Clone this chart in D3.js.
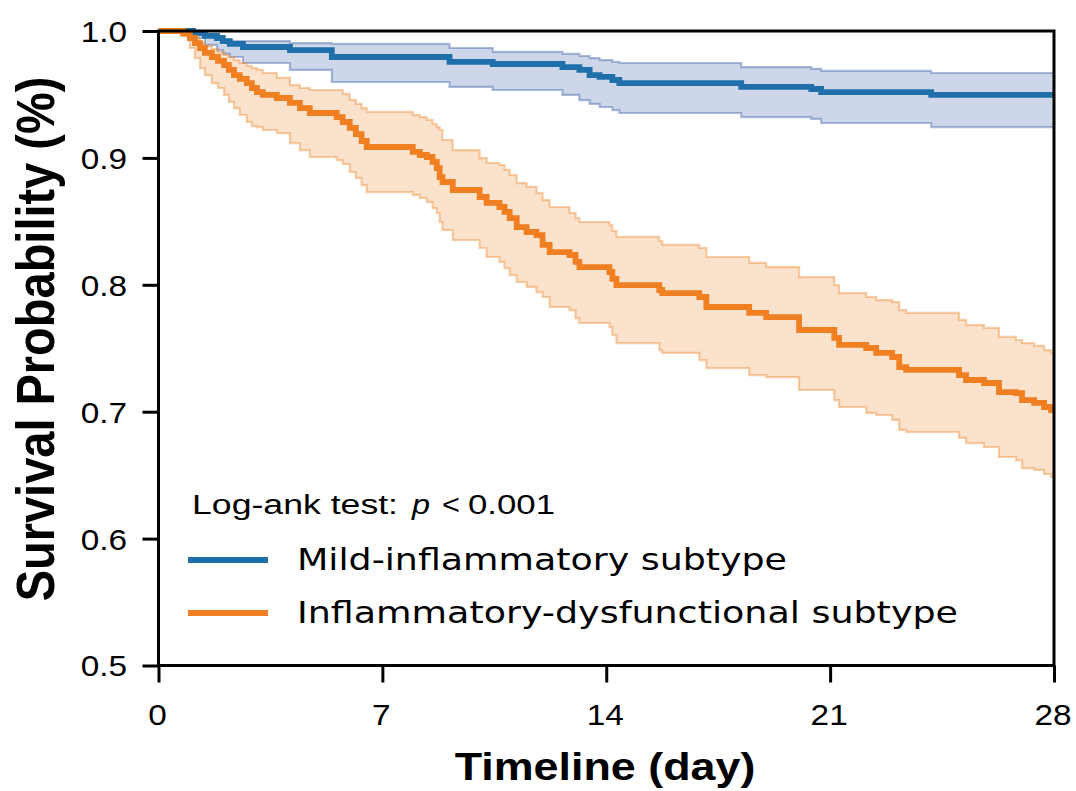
<!DOCTYPE html>
<html>
<head>
<meta charset="utf-8">
<script src="https://cdn.jsdelivr.net/npm/d3@7"></script>
<style>
  html, body { margin: 0; padding: 0; background: #fff; }
  svg { display: block; }
</style>
</head>
<body>
<div id="chart"></div>
<script>
// ---------------- DATA ----------------
const seriesNames = ["Mild-inflammatory subtype", "Inflammatory-dysfunctional subtype"];
const testLabel = "Log-ank test:";
const pLabel = "p";
const pValueText = "0.001";
const xTickValues = [0, 7, 14, 21, 28];
const yTickValues = [0.5, 0.6, 0.7, 0.8, 0.9, 1.0];
const xTitle = "Timeline (day)";
const yTitle = "Survival Probability (%)";

// Mild-inflammatory subtype (Kaplan-Meier estimate + 95% CI)
const blueTime  = [0, 1.08, 1.45, 1.83, 2.01, 2.23, 2.64, 4.11, 5.42, 9.10, 10.45, 12.63, 13.16, 13.48, 13.79, 14.19, 14.41, 18.22, 20.41, 20.72, 24.16];
const blueSurv  = [1.0, .9984, .9961, .9945, .9921, .9898, .9874, .985, .9795, .9756, .974, .9716, .9693, .9653, .9638, .9614, .959, .9559, .9543, .9519, .9496];
const blueUpper = [1.0, .9992, .9976, .9953, .9937, .9921, .9921, .9905, .9898, .9866, .9835, .9819, .9803, .9787, .9771, .9756, .9748, .9716, .9701, .9685, .9669];
const blueLower = [1.0, .9945, .989, .985, .9819, .9795, .9748, .9693, .9598, .9559, .9535, .9496, .9456, .9425, .9401, .9377, .9354, .9322, .9307, .9275, .9243];

// Inflammatory-dysfunctional subtype
const orangeTime  = [0, 0.77, 0.98, 1.14, 1.30, 1.45, 1.67, 1.86, 2.05, 2.20, 2.36, 2.54, 2.76, 2.92, 3.08, 3.26, 3.70, 4.11, 4.42, 4.73, 5.57, 5.76, 5.98, 6.17, 6.35, 6.51, 7.95, 8.17, 8.39, 8.57, 8.70, 8.79, 8.88, 9.20, 10.04, 10.26, 10.66, 10.82, 10.98, 11.20, 11.51, 11.82, 12.01, 12.23, 12.85, 13.04, 13.16, 14.10, 14.19, 14.32, 15.66, 15.75, 16.91, 17.13, 18.47, 19.00, 20.03, 21.13, 21.28, 22.13, 22.44, 22.94, 23.16, 23.38, 25.03, 25.25, 25.81, 26.28, 26.81, 27.00, 27.38, 27.69, 27.91];
const orangeSurv  = [1.0, .998, .9945, .9905, .9866, .9827, .9795, .9764, .9732, .9693, .9653, .9622, .959, .9551, .9519, .9496, .9472, .9433, .9393, .9354, .9322, .9283, .9236, .9188, .9133, .9086, .9047, .9023, .9007, .8968, .892, .8849, .881, .8747, .8692, .8645, .8613, .8574, .8526, .8455, .8416, .8392, .8314, .8258, .8235, .818, .814, .8101, .8046, .7998, .7959, .7935, .7904, .7825, .7778, .7746, .7644, .7581, .7526, .7502, .7463, .7431, .7352, .7329, .7289, .725, .7226, .7155, .7147, .7092, .7069, .7037, .7013];
const orangeUpper = [1.0, .9992, .9968, .9945, .9905, .9882, .9858, .9835, .9811, .9795, .9771, .9748, .9724, .9708, .9693, .9669, .963, .9574, .9551, .9535, .9535, .9504, .9456, .9425, .9393, .9362, .9338, .9322, .9299, .9267, .9243, .922, .9141, .9062, .8999, .896, .8944, .8905, .8865, .8802, .8771, .8723, .8668, .8613, .8566, .8526, .8495, .8471, .8424, .8377, .8345, .8314, .829, .8219, .8172, .814, .8061, .7998, .7935, .7904, .788, .7864, .7801, .7778, .7723, .7683, .766, .7589, .7565, .7541, .7518, .7486, .7463];
const orangeLower = [1.0, .9961, .9866, .9787, .9708, .9653, .959, .9551, .9496, .9441, .9393, .9338, .9283, .9251, .9243, .922, .9196, .9117, .9062, .9007, .8983, .8952, .8889, .8842, .8786, .8731, .8708, .8684, .8652, .8605, .8566, .8495, .8432, .8353, .829, .8219, .818, .8132, .8077, .8022, .7983, .7943, .7904, .7825, .7801, .7738, .7699, .7667, .7604, .7541, .7486, .7463, .7407, .7344, .7289, .7273, .7171, .7092, .7037, .699, .6974, .6935, .6856, .684, .6793, .6753, .6722, .6643, .6619, .6556, .6541, .6509, .6485];

const blueColor = "#1f70aa";
const orangeColor = "#f07f22";
const blueBand = "#3b5fa8";
const orangeBand = "#ef8b33";

// ---------------- LAYOUT ----------------
const W = 1076, H = 791;
const x = d3.scaleLinear().domain([0, 28]).range([158.5, 1054]);
const y = d3.scaleLinear().domain([0.5, 1.0]).range([665.5, 31]);

const svg = d3.select("#chart").append("svg").attr("width", W).attr("height", H);

svg.append("defs").append("clipPath").attr("id", "plotclip")
  .append("rect")
  .attr("x", x(0)).attr("y", y(1.0) - 4)
  .attr("width", x(28) - x(0)).attr("height", y(0.5) - y(1.0) + 4);

function build(time, surv, up, lo) {
  const rows = time.map((t, i) => ({ t, s: surv[i], u: up[i], l: lo[i] }));
  const last = rows[rows.length - 1];
  rows.push({ t: x.domain()[1], s: last.s, u: last.u, l: last.l });
  return rows;
}
const blueData = build(blueTime, blueSurv, blueUpper, blueLower);
const orangeData = build(orangeTime, orangeSurv, orangeUpper, orangeLower);

const plot = svg.append("g").attr("clip-path", "url(#plotclip)");

const area = d3.area().curve(d3.curveStepAfter)
  .x(d => x(d.t)).y0(d => y(d.l)).y1(d => y(d.u));
const lineS = d3.line().curve(d3.curveStepAfter).x(d => x(d.t)).y(d => y(d.s));
const lineU = d3.line().curve(d3.curveStepAfter).x(d => x(d.t)).y(d => y(d.u));
const lineL = d3.line().curve(d3.curveStepAfter).x(d => x(d.t)).y(d => y(d.l));

function band(data, col) {
  plot.append("path").datum(data).attr("d", area)
    .attr("fill", col).attr("fill-opacity", 0.25).attr("stroke", "none");
  [lineU, lineL].forEach(g => plot.append("path").datum(data).attr("d", g)
    .attr("fill", "none").attr("stroke", col).attr("stroke-opacity", 0.42).attr("stroke-width", 2.2));
}
band(blueData, blueBand);
band(orangeData, orangeBand);

plot.append("path").datum(blueData).attr("d", lineS)
  .attr("fill", "none").attr("stroke", blueColor).attr("stroke-width", 5.8);
plot.append("path").datum(orangeData).attr("d", lineS)
  .attr("fill", "none").attr("stroke", orangeColor).attr("stroke-width", 5.8);

// ---------------- AXES ----------------
const sx = 1.15;
const yAxis = svg.append("g").attr("transform", `translate(${x(0)},0)`)
  .call(d3.axisLeft(y).tickValues(yTickValues).tickSize(16).tickFormat(d3.format(".1f")));
yAxis.select(".domain").remove();
yAxis.selectAll(".tick line").attr("stroke", "#000").attr("stroke-width", 3);
yAxis.selectAll(".tick text")
  .attr("x", 0).attr("dy", "0.36em")
  .attr("transform", `translate(-31.5,0) scale(${sx},1)`)
  .attr("font-family", "'Liberation Sans', Arial, sans-serif")
  .attr("font-size", 29).attr("fill", "#000").attr("text-anchor", "end");

const xAxis = svg.append("g").attr("transform", `translate(0,${y(0.5)})`)
  .call(d3.axisBottom(x).tickValues(xTickValues).tickSize(17).tickFormat(d3.format("d")));
xAxis.select(".domain").remove();
xAxis.selectAll(".tick line").attr("stroke", "#000").attr("stroke-width", 3);
xAxis.selectAll(".tick text")
  .attr("y", 0).attr("dy", 0)
  .attr("transform", `translate(-1.5,59.5) scale(${sx},1)`)
  .attr("font-family", "'Liberation Sans', Arial, sans-serif")
  .attr("font-size", 29).attr("fill", "#000").attr("text-anchor", "middle");

// frame
svg.append("rect")
  .attr("x", x(0)).attr("y", y(1.0))
  .attr("width", x(28) - x(0)).attr("height", y(0.5) - y(1.0))
  .attr("fill", "none").attr("stroke", "#000").attr("stroke-width", 3);

// titles
svg.append("text")
  .attr("transform", `translate(605,780) scale(${sx},1)`)
  .attr("text-anchor", "middle")
  .attr("font-family", "'Liberation Sans', Arial, sans-serif")
  .attr("font-weight", "bold").attr("font-size", 39).attr("fill", "#000")
  .text(xTitle);

svg.append("text")
  .attr("transform", `translate(54,339) scale(${sx},1) rotate(-90)`)
  .attr("text-anchor", "middle")
  .attr("font-family", "'Liberation Sans', Arial, sans-serif")
  .attr("font-weight", "bold").attr("font-size", 47).attr("fill", "#000")
  .text(yTitle);

// ---------------- LEGEND ----------------
const lg = svg.append("g");
const sansA = "'Liberation Sans', Arial, sans-serif";
lg.append("text").attr("x", 192).attr("y", 514)
  .attr("font-family", sansA).attr("font-size", 27).attr("fill", "#000")
  .attr("textLength", 206).attr("lengthAdjust", "spacingAndGlyphs")
  .text(testLabel);
lg.append("text").attr("x", 412).attr("y", 514)
  .attr("font-family", sansA).attr("font-style", "italic").attr("font-size", 27).attr("fill", "#000")
  .attr("textLength", 18).attr("lengthAdjust", "spacingAndGlyphs")
  .text(pLabel);
lg.append("text").attr("x", 442).attr("y", 514)
  .attr("font-family", sansA).attr("font-size", 27).attr("fill", "#000")
  .attr("textLength", 18).attr("lengthAdjust", "spacingAndGlyphs")
  .text("<");
lg.append("text").attr("x", 468).attr("y", 514)
  .attr("font-family", sansA).attr("font-size", 27).attr("fill", "#000")
  .attr("textLength", 87).attr("lengthAdjust", "spacingAndGlyphs")
  .text(pValueText);

const legendRows = [
  { name: seriesNames[0], color: blueColor, y: 560, len: 490 },
  { name: seriesNames[1], color: orangeColor, y: 613, len: 661 }
];
legendRows.forEach(r => {
  lg.append("line").attr("x1", 188).attr("x2", 268).attr("y1", r.y).attr("y2", r.y)
    .attr("stroke", r.color).attr("stroke-width", 5.8);
  lg.append("text").attr("x", 297).attr("y", r.y + 9.5)
    .attr("font-family", "'DejaVu Sans', sans-serif").attr("font-size", 31).attr("fill", "#000")
    .attr("textLength", r.len).attr("lengthAdjust", "spacingAndGlyphs")
    .text(r.name);
});
</script>
</body>
</html>
